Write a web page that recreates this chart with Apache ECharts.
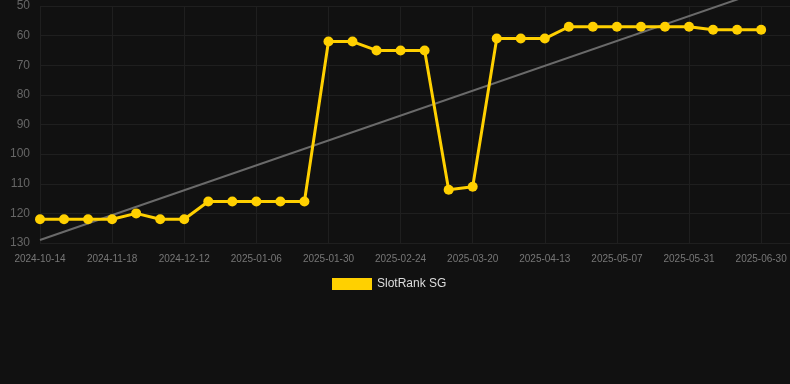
<!DOCTYPE html>
<html>
<head>
<meta charset="utf-8">
<script src="https://cdn.jsdelivr.net/npm/echarts@6/dist/echarts.min.js"></script>
<style>
html,body{margin:0;padding:0;background:#111111;}
#chart{width:790px;height:384px;}
</style>
</head>
<body>
<div id="chart"></div>
<script>
var categories = [
  '2024-10-14','2024-10-26','2024-11-06','2024-11-18','2024-11-26','2024-12-04',
  '2024-12-12','2024-12-20','2024-12-29','2025-01-06','2025-01-14','2025-01-22',
  '2025-01-30','2025-02-07','2025-02-16','2025-02-24','2025-03-04','2025-03-12',
  '2025-03-20','2025-03-28','2025-04-05','2025-04-13','2025-04-21','2025-04-29',
  '2025-05-07','2025-05-15','2025-05-23','2025-05-31','2025-06-10','2025-06-20',
  '2025-06-30'
];
var rankValues = [
  122,122,122,122,120,122,122,116,116,116,116,116,
  62,62,65,65,65,112,111,61,61,61,57,57,57,57,57,57,58,58,58
];
var trendStart = 129;
var trendEnd = 45;
var yTicks = [50,60,70,80,90,100,110,120,130];

var chart = echarts.init(document.getElementById('chart'));
var seriesData = rankValues.map(function(v,i){return [i,v];});
var trendData = [[0,trendStart],[categories.length-1,trendEnd]];

chart.setOption({
  backgroundColor:'#111111',
  animation:false,
  grid:{left:40,right:0,top:6,bottom:141,containLabel:false},
  legend:{
    data:['SlotRank SG'],
    top:273,
    left:327,
    icon:'rect',
    itemWidth:40,
    itemHeight:12,
    itemGap:10,
    textStyle:{color:'#dddddd',fontSize:12,fontFamily:'Liberation Sans, Arial, sans-serif'}
  },
  xAxis:{
    type:'value',
    min:0,
    max:31.2,
    interval:3,
    axisLine:{show:false},
    axisTick:{show:false},
    splitLine:{show:true,lineStyle:{color:'#1f1f1f',width:1}},
    axisLabel:{
      color:'#777777',
      fontSize:10,
      margin:11,
      fontFamily:'Liberation Sans, Arial, sans-serif',
      showMaxLabel:false,
      formatter:function(v){return Number.isInteger(v)&&categories[v]?categories[v]:'';}
    }
  },
  yAxis:{
    type:'value',
    inverse:true,
    min:yTicks[0],
    max:yTicks[yTicks.length-1],
    interval:10,
    axisLine:{show:false},
    axisTick:{show:false},
    splitLine:{show:true,lineStyle:{color:'#1f1f1f',width:1}},
    axisLabel:{color:'#666666',fontSize:12,margin:10,fontFamily:'Liberation Sans, Arial, sans-serif'}
  },
  series:[
    {
      name:'Trend',
      type:'line',
      data:trendData,
      clip:false,
      symbol:'none',
      silent:true,
      lineStyle:{color:'#6a6a6a',width:2},
      z:1
    },
    {
      name:'SlotRank SG',
      type:'line',
      data:seriesData,
      symbol:'circle',
      symbolSize:10,
      itemStyle:{color:'#FFD000'},
      lineStyle:{color:'#FFD000',width:3},
      z:3
    }
  ]
});
</script>
</body>
</html>
